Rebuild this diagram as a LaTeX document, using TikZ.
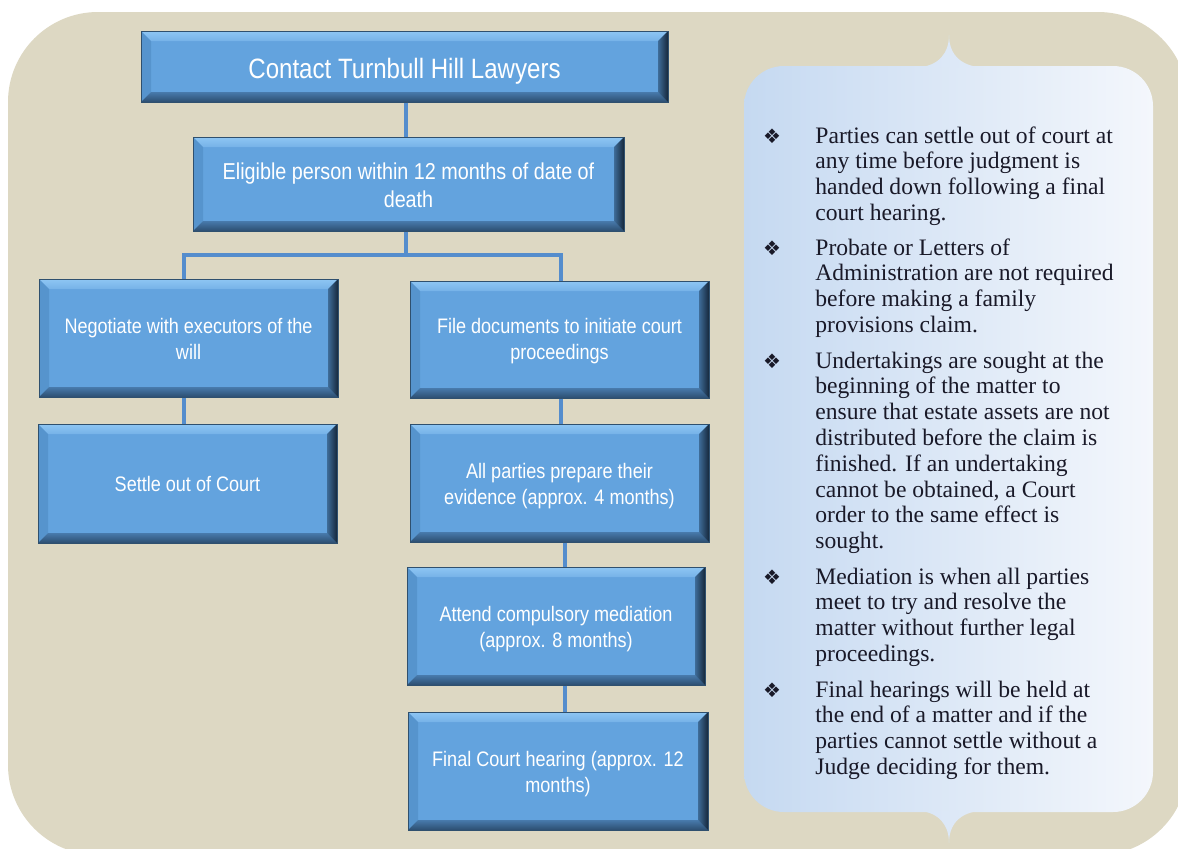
\documentclass[tikz,border=0pt]{standalone}
\usepackage{fontspec}
\setmainfont{Liberation Serif}
\newfontfamily\boxfont[FakeStretch=0.86]{Liberation Sans}
\newfontfamily\symfont{DejaVu Sans}
\definecolor{beige}{RGB}{221,216,195}
\definecolor{panelL}{RGB}{197,217,241}
\definecolor{panelR}{RGB}{244,247,252}
\definecolor{notchL}{RGB}{217,230,246}
\definecolor{notchR}{RGB}{224,234,248}
\definecolor{boxblue}{RGB}{99,163,222}
\definecolor{boxline}{RGB}{47,80,110}
\definecolor{bevTa}{RGB}{118,178,232}
\definecolor{bevTb}{RGB}{142,198,243}
\definecolor{bevL}{RGB}{86,148,205}
\definecolor{bevRa}{RGB}{62,108,152}
\definecolor{bevRb}{RGB}{22,40,60}
\definecolor{bevBa}{RGB}{72,122,172}
\definecolor{bevBb}{RGB}{44,78,112}
\definecolor{connc}{RGB}{84,141,205}
\definecolor{ink}{RGB}{25,25,40}
% box text: tabular lines, moved down by #1 inside the node
\newcommand\boxtext[2]{\raisebox{0pt}[\dimexpr\height+#1\relax][\dimexpr\depth-#1\relax]{\begin{tabular}{@{}c@{}}#2\end{tabular}}}
\tikzset{
  bevelbox/.style={rectangle, draw=boxline, line width=0.5pt, fill=boxblue,
    text=white, inner sep=0pt,
    font=\boxfont\fontsize{10.5}{13}\selectfont,
    path picture={
      \path (path picture bounding box.north west) coordinate (pNW)
            (path picture bounding box.north east) coordinate (pNE)
            (path picture bounding box.south west) coordinate (pSW)
            (path picture bounding box.south east) coordinate (pSE);
      \shade[top color=bevTb, bottom color=bevTa] (pNW) -- (pNE) -- ([shift={(-5pt,-5pt)}]pNE) -- ([shift={(5pt,-5pt)}]pNW) -- cycle;
      \fill[bevL] (pNW) -- (pSW) -- ([shift={(5pt,5pt)}]pSW) -- ([shift={(5pt,-5pt)}]pNW) -- cycle;
      \shade[top color=bevBa, bottom color=bevBb] (pSW) -- (pSE) -- ([shift={(-5pt,5pt)}]pSE) -- ([shift={(5pt,5pt)}]pSW) -- cycle;
      \shade[left color=bevRa, right color=bevRb] (pNE) -- (pSE) -- ([shift={(-5pt,5pt)}]pSE) -- ([shift={(-5pt,-5pt)}]pNE) -- cycle;
    }},
  connector/.style={draw=connc, line width=2pt},
  itemtxt/.style={anchor=base west, inner sep=0pt, text=ink,
    font=\fontsize{11.8}{12.9}\selectfont},
  bulletst/.style={anchor=base, inner sep=0pt, text=ink,
    font=\symfont\fontsize{10}{10}\selectfont},
}
\begin{document}
\begin{tikzpicture}[x=0.5pt,y=-0.5pt]
\useasboundingbox (0,0) rectangle (1178,848);
\fill[white] (0,0) rectangle (1178,848);
% background
\fill[beige, rounded corners=45pt] (8,12) rectangle (1188,855);
% side panel
\shade[left color=panelL, right color=panelR, rounded corners=20pt] (744,66) rectangle (1153,812);
\shade[left color=notchL, right color=notchR] (917,67.5) .. controls (940,66) and (949,52) .. (949,35) .. controls (949,52) and (958,66) .. (983,67.5) -- cycle;
\shade[left color=notchL, right color=notchR] (917,810.5) .. controls (940,812) and (949,826) .. (949,843) .. controls (949,826) and (958,812) .. (983,810.5) -- cycle;

% boxes
\node[bevelbox, minimum width=263.5pt, minimum height=35.5pt,
      font=\boxfont\fontsize{14}{17}\selectfont] (contact) at (404.5,66.5) {\boxtext{2.5pt}{Contact Turnbull Hill Lawyers}};
\node[bevelbox, minimum width=215.5pt, minimum height=47pt,
      font=\boxfont\fontsize{11.5}{14}\selectfont] (eligible) at (408.5,184) {\boxtext{1.7pt}{Eligible person within 12 months of date of\\death}};
\node[bevelbox, minimum width=149.5pt, minimum height=59pt] (negotiate) at (188.5,338) {\boxtext{1.5pt}{Negotiate with executors of the\\will}};
\node[bevelbox, minimum width=149.5pt, minimum height=58.5pt] (file) at (559.5,339.5) {\boxtext{0.8pt}{File documents to initiate court\\proceedings}};
\node[bevelbox, minimum width=149.5pt, minimum height=59.5pt] (settle) at (187.5,483.5) {\boxtext{1.3pt}{Settle out of Court}};
\node[bevelbox, minimum width=149.5pt, minimum height=59pt] (prepare) at (559.5,483) {\boxtext{1.5pt}{All parties prepare their\\evidence (approx. 4 months)}};
\node[bevelbox, minimum width=149pt, minimum height=59pt] (mediation) at (556,626) {\boxtext{1.5pt}{Attend compulsory mediation\\(approx. 8 months)}};
\node[bevelbox, minimum width=150pt, minimum height=59pt] (final) at (558,771) {\boxtext{1.5pt}{Final Court hearing (approx. 12\\months)}};

% connectors
\coordinate (jn) at (406,255);
\coordinate (cxT) at (406,0);
\coordinate (cxL) at (184,0);
\coordinate (cxB) at (561,0);
\coordinate (cxC) at (565,0);
\draw[connector] (contact.south -| cxT) -- (eligible.north -| cxT);
\draw[connector] (eligible.south -| cxT) -- (jn);
\draw[connector] (jn) -| (negotiate.north -| cxL);
\draw[connector] (jn) -| (file.north -| cxB);
\draw[connector] (negotiate.south -| cxL) -- (settle.north -| cxL);
\draw[connector] (file.south -| cxB) -- (prepare.north -| cxB);
\draw[connector] (prepare.south -| cxC) -- (mediation.north -| cxC);
\draw[connector] (mediation.south -| cxC) -- (final.north -| cxC);

% notes
\node[bulletst] (b1) at (772,143) {❖};
\node[itemtxt] (t1) at (815,143) {\parbox[t]{190pt}{\raggedright Parties can settle out of court at\\any time before judgment is\\handed down following a final\\court hearing.}};
\node[bulletst] (b2) at (772,255) {❖};
\node[itemtxt] (t2) at (815,255) {\parbox[t]{190pt}{\raggedright Probate or Letters of\\Administration are not required\\before making a family\\provisions claim.}};
\node[bulletst] (b3) at (772,368) {❖};
\node[itemtxt] (t3) at (815,368) {\parbox[t]{190pt}{\raggedright Undertakings are sought at the\\beginning of the matter to\\ensure that estate assets are not\\distributed before the claim is\\finished. If an undertaking\\cannot be obtained, a Court\\order to the same effect is\\sought.}};
\node[bulletst] (b4) at (772,584) {❖};
\node[itemtxt] (t4) at (815,584) {\parbox[t]{190pt}{\raggedright Mediation is when all parties\\meet to try and resolve the\\matter without further legal\\proceedings.}};
\node[bulletst] (b5) at (772,697) {❖};
\node[itemtxt] (t5) at (815,697) {\parbox[t]{190pt}{\raggedright Final hearings will be held at\\the end of a matter and if the\\parties cannot settle without a\\Judge deciding for them.}};
\end{tikzpicture}
\end{document}
